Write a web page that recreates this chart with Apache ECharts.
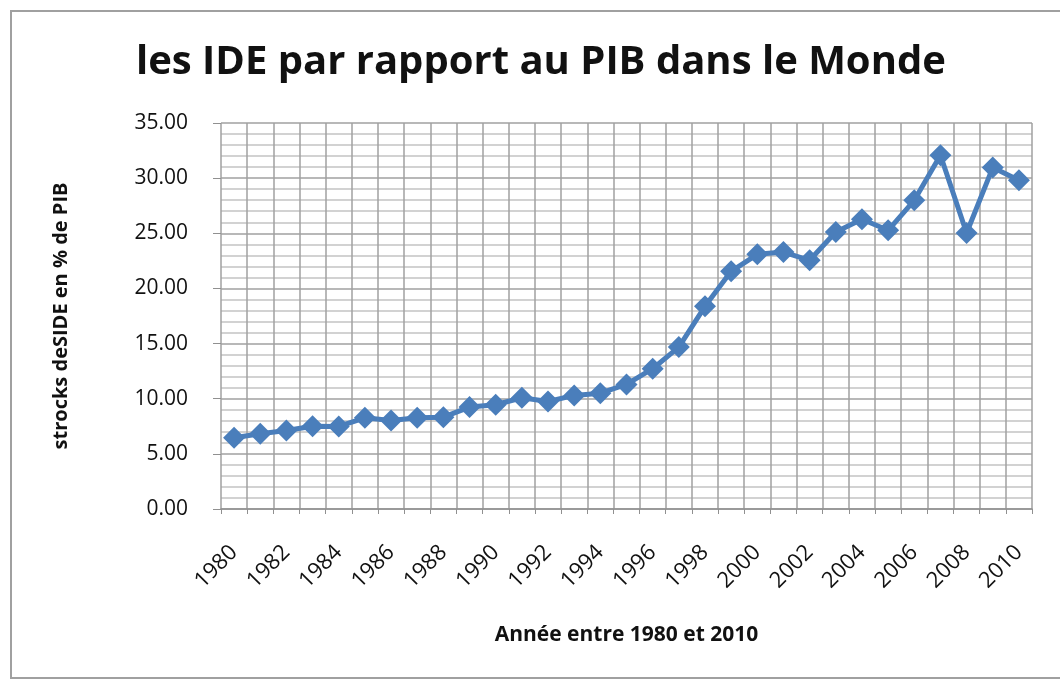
<!DOCTYPE html>
<html><head><meta charset="utf-8">
<script src="https://cdn.jsdelivr.net/npm/echarts@6/dist/echarts.min.js"></script>
<style>html,body{margin:0;padding:0;background:#fff}#c{width:1060px;height:680px}</style>
</head><body><div id="c"></div>
<script>
const years = [];
for (let y = 1980; y <= 2010; y++) years.push(String(y));
const ideValues = [6.46, 6.82, 7.12, 7.51, 7.49, 8.27, 8.03, 8.27, 8.33, 9.24, 9.45, 10.09, 9.75, 10.30, 10.50,
  11.30, 12.72, 14.68, 18.38, 21.55, 23.09, 23.30, 22.55, 25.12, 26.27, 25.27, 27.99, 32.08, 25.03, 30.96, 29.81];
const titleText = 'les IDE par rapport au PIB dans le Monde';
const yName = 'strocks deSIDE en % de PIB';
const xName = 'Année entre 1980 et 2010';
const FONT = '"Open Sans", sans-serif';

const chart = echarts.init(document.getElementById('c'));
chart.setOption({
  animation: false,
  title: { text: titleText, left: 131, top: 38, textStyle: { fontFamily: FONT, fontWeight: 'bold', fontSize: 40, color: '#111' } },
  graphic: [{ type: 'rect', shape: { x: 11, y: 11, width: 1100, height: 667 }, style: { fill: 'none', stroke: '#a0a0a0', lineWidth: 2 }, silent: true }],
  grid: { left: 221, right: 28, top: 123, bottom: 171 },
  xAxis: {
    type: 'category', data: years, boundaryGap: true,
    name: xName, nameLocation: 'middle', nameGap: 116,
    nameTextStyle: { fontFamily: FONT, fontWeight: 'bold', fontSize: 21, color: '#111' },
    axisLine: { lineStyle: { color: '#909090', width: 1.5 } },
    axisTick: { show: true, interval: 0, length: 5, lineStyle: { color: '#909090' } },
    axisLabel: { interval: 1, rotate: 45, fontFamily: FONT, fontSize: 22, color: '#111', margin: 40 },
    splitLine: { show: true, interval: 0, lineStyle: { color: '#a0a0a0', width: 1.5 } }
  },
  yAxis: {
    type: 'value', min: 0, max: 35, interval: 5,
    name: yName, nameLocation: 'middle', nameGap: 150, nameRotate: 90,
    nameTextStyle: { fontFamily: FONT, fontWeight: 'bold', fontSize: 20, color: '#111' },
    axisLine: { show: false },
    axisTick: { show: true, length: 8, lineStyle: { color: '#909090' } },
    axisLabel: { fontFamily: FONT, fontSize: 21, color: '#111', margin: 33, formatter: v => v.toFixed(2) },
    splitLine: { show: true, lineStyle: { color: '#a0a0a0', width: 1.5 } },
    minorTick: { show: false, splitNumber: 5 },
    minorSplitLine: { show: true, lineStyle: { color: '#c4c4c4', width: 1.5 } }
  },
  series: [{
    type: 'line', data: ideValues, symbol: 'diamond', symbolSize: 22, showAllSymbol: true,
    lineStyle: { color: '#4a7ebb', width: 5 },
    itemStyle: { color: '#4a7ebb' }
  }]
});
</script></body></html>
